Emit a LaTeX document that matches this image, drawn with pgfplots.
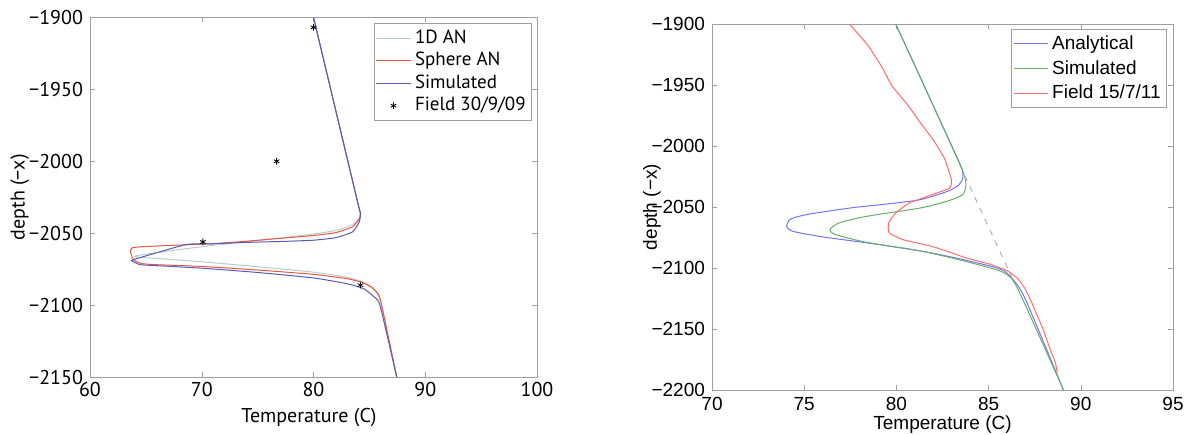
\documentclass[border=0pt]{standalone}
\usepackage{fontspec}
\usepackage{pgfplots}
\pgfplotsset{compat=1.18}
\newfontfamily\lfont{PT Sans}
\newfontfamily\rfont{Liberation Sans}
\definecolor{anone}{rgb}{0.72,0.80,0.80}
\definecolor{ansph}{rgb}{0.90,0.35,0.25}
\definecolor{simul}{rgb}{0.35,0.35,0.72}
\definecolor{rblue}{rgb}{0.45,0.45,1.0}
\definecolor{rgreen}{rgb}{0.40,0.68,0.40}
\definecolor{rred}{rgb}{1.0,0.42,0.42}
\pgfplotsset{
  mlab/.style={
    scale only axis,
    axis line style={gray!75},
    tick style={gray!75},
    tick align=inside,
    major tick length=2.5pt,
    legend cell align=left,
    legend style={draw=gray!75, inner sep=1pt},
  },
}
\begin{document}
\begin{tikzpicture}
\path[use as bounding box] (0,0) rectangle (594.5pt,-217pt);

% left panel
\begin{axis}[mlab,
  at={(45pt,-8.65pt)}, anchor=north west,
  width=223.5pt, height=180pt,
  xmin=60, xmax=100, ymin=-2150, ymax=-1900,
  xtick={60,70,80,90,100},
  xticklabels={60,70,80,90,100},
  ytick={-1900,-1950,-2000,-2050,-2100,-2150},
  yticklabels={−1900,−1950,−2000,−2050,−2100,−2150},
  xticklabel style={yshift=1pt},
  tick label style={font=\lfont\fontsize{10}{12}\selectfont},
  label style={font=\lfont\fontsize{10}{12}\selectfont},
  xlabel={Temperature (C)}, ylabel={depth (−x)},
  xlabel style={at={(axis description cs:0.49,-0.112)}, anchor=center},
  ylabel style={at={(axis description cs:-0.157,0.5)}, anchor=center},
  legend style={font=\lfont\fontsize{9.5}{11}\selectfont, row sep=-1pt, at={(0.989,0.983)}, anchor=north east},
]
\addplot[anone, line width=0.5pt, smooth, tension=0.35] coordinates {
(80.0,-1900) (82.0,-1965) (84.0,-2030) (84.2,-2036)
(84.15,-2039) (83.5,-2044) (82,-2048) (80,-2050.5) (77,-2053.3) (74,-2055.8)
(70,-2059.3) (67,-2062.3) (64.2,-2065.5) (64.2,-2066.5) (66,-2067.5) (70,-2069.8)
(75,-2073.2) (80,-2077) (83,-2080.5) (84.3,-2083.5) (85.2,-2087) (85.8,-2092)
(86.1,-2100) (87.45,-2150)
};
\addlegendentry{1D AN}
\addplot[ansph, line width=0.5pt, smooth, tension=0.3] coordinates {
(80.0,-1900) (82.0,-1965) (84.0,-2030) (84.2,-2036) (84.1,-2040) (83.5,-2045.5) (82,-2049.5)
(80,-2051.5) (77,-2053.5) (74,-2055.5) (71,-2057.2) (68.6,-2058) (63.8,-2060)
(63.85,-2068) (64.6,-2071) (66,-2071.8) (70,-2073) (75,-2075.5) (80,-2078.5)
(83,-2081.5) (84.3,-2084) (85.2,-2087.5) (85.8,-2092.5) (86.1,-2100) (87.45,-2150)
};
\addlegendentry{Sphere AN}
\addplot[simul, line width=0.5pt, smooth, tension=0.3] coordinates {
(80.0,-1900) (82.0,-1965) (84.0,-2030) (84.2,-2036) (84.1,-2042) (83.5,-2049) (82,-2053)
(80,-2054.8) (77,-2055.7) (74,-2056.3) (71,-2057.3) (68.6,-2057.8) (64.0,-2068)
(63.7,-2069) (63.9,-2069.8) (64.5,-2071.8) (66,-2072.5) (70,-2074.2) (75,-2077.2)
(80,-2081) (83,-2085) (84.5,-2088.5) (85.4,-2094) (85.95,-2100) (87.45,-2150)
};
\addlegendentry{Simulated}
\addplot[only marks, mark=asterisk, mark size=1.6pt, black] coordinates {
(80.0,-1907) (76.7,-2000) (70.1,-2056) (84.2,-2086)
};
\addlegendentry{Field 30/9/09}
\end{axis}

% right panel
\begin{axis}[mlab,
  at={(356pt,-12pt)}, anchor=north west,
  width=230.5pt, height=183pt,
  xmin=70, xmax=95, ymin=-2200, ymax=-1900,
  xtick={70,75,80,85,90,95},
  xticklabels={70,75,80,85,90,95},
  ytick={-1900,-1950,-2000,-2050,-2100,-2150,-2200},
  yticklabels={−1900,−1950,−2000,−2050,−2100,−2150,−2200},
  tick label style={font=\rfont\fontsize{9.5}{11}\selectfont},
  label style={font=\rfont\fontsize{9.5}{11}\selectfont},
  xlabel={Temperature (C)}, ylabel={depth (−x)},
  xlabel style={at={(axis description cs:0.5,-0.095)}, anchor=center},
  ylabel style={at={(axis description cs:-0.13,0.5)}, anchor=center},
  legend style={font=\rfont\fontsize{9.5}{11}\selectfont, at={(0.987,0.986)}, anchor=north east},
]
\addplot[rblue, line width=0.5pt, smooth, tension=0.4] coordinates {
(79.96,-1900) (81.0,-1934) (82.0,-1967) (83.0,-2000) (83.54,-2018) (83.6,-2026)
(83.4,-2031.7) (82.8,-2037) (81.3,-2044) (79.5,-2047.5) (77.5,-2050.8) (75.2,-2056)
(74.25,-2060) (74.05,-2066) (74.4,-2070) (76.0,-2074.5) (78.4,-2079.4) (81.3,-2086)
(83.2,-2091.7) (85.1,-2098.5) (85.86,-2102.6) (86.4,-2110.8) (87.0,-2125.8) (89.06,-2200)
};
\addlegendentry{Analytical}
\addplot[rgreen, line width=0.5pt, smooth, tension=0.4] coordinates {
(79.96,-1900) (83.0,-2000) (83.67,-2023.5) (83.77,-2033) (83.58,-2040) (82.8,-2045)
(81.3,-2050.8) (78.4,-2057.6) (76.9,-2063) (76.4,-2068.5) (76.7,-2072.6) (78.4,-2079)
(81.3,-2086) (83.2,-2092.5) (85.1,-2100) (85.96,-2105) (86.6,-2117.6) (89.06,-2200)
};
\addlegendentry{Simulated}
\addplot[rred, line width=0.5pt, smooth, tension=0.3] coordinates {
(77.44,-1900) (78.43,-1917) (79.2,-1935) (79.77,-1951) (80.6,-1966) (81.3,-1981) (82.0,-1995)
(82.6,-2010) (82.98,-2027.6)
(82.9,-2034.4) (82.2,-2038.5) (80.7,-2046.7) (79.96,-2055) (79.58,-2063) (79.6,-2071)
(80.34,-2076.7) (81.86,-2082) (83.0,-2087.6) (83.77,-2091.7) (85.1,-2097) (86.05,-2102.6)
(86.6,-2109) (87.0,-2117.6) (87.3,-2127) (87.57,-2136.7) (87.95,-2150) (88.34,-2166.7) (88.62,-2177.6)
(88.72,-2185.8)
};
\addlegendentry{Field 15/7/11}
\addplot[gray!60, dashed, line width=0.5pt, forget plot] coordinates {
(83.7,-2024) (86.24,-2106.8)
};
\end{axis}
\end{tikzpicture}
\end{document}
